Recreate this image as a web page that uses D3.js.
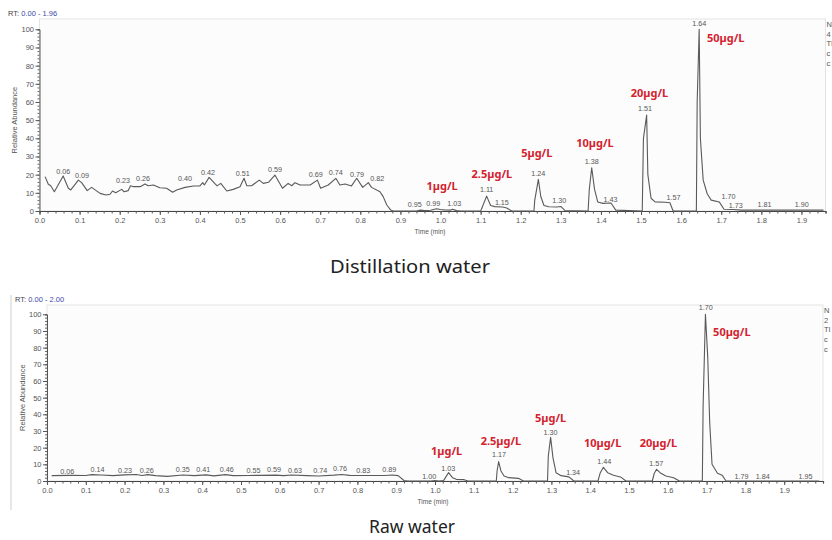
<!DOCTYPE html>
<html><head><meta charset="utf-8">
<script src="https://cdn.jsdelivr.net/npm/d3@7"></script>
<style>
html,body{margin:0;padding:0;background:#fff;}
svg{display:block;font-family:"Liberation Sans",Arial,sans-serif;}
</style></head><body>
<svg id="chart" width="832" height="540"></svg>
<script>
// ---------- DATA ----------
const yTicks = [0,10,20,30,40,50,60,70,80,90,100];
const xTicksTop = [0,0.1,0.2,0.3,0.4,0.5,0.6,0.7,0.8,0.9,1.0,1.1,1.2,1.3,1.4,1.5,1.6,1.7,1.8,1.9];
const xTicksBottom = [0,0.1,0.2,0.3,0.4,0.5,0.6,0.7,0.8,0.9,1.0,1.1,1.2,1.3,1.4,1.5,1.6,1.7,1.8,1.9];

// Distillation water chromatogram [time(min), relative abundance]
const distillationTrace = [
[0.014,18.9],[0.022,14.7],[0.028,13.9],[0.037,10.6],[0.044,13.4],[0.059,19.3],[0.072,12.5],[0.078,11.6],
[0.097,17],[0.105,15.6],[0.119,11.2],[0.13,13],[0.151,9.7],[0.166,8.8],[0.176,9.2],[0.182,11],[0.19,10.1],
[0.205,11.9],[0.211,10.6],[0.221,11.2],[0.227,13.9],[0.234,13.4],[0.251,13.4],[0.263,14.9],[0.271,13.9],
[0.284,14.3],[0.3,12.8],[0.317,12.5],[0.332,10.3],[0.342,11.6],[0.363,13],[0.384,13.8],[0.4,13.8],[0.407,15.6],
[0.411,14.3],[0.423,18.5],[0.438,14.9],[0.443,13.8],[0.452,15.2],[0.467,11],[0.483,11.9],[0.5,13.4],[0.51,18],
[0.517,13.9],[0.529,13.9],[0.548,17],[0.558,15.2],[0.571,15.8],[0.587,19.8],[0.606,12.5],[0.62,15.2],[0.629,13.9],
[0.637,15.6],[0.65,14.3],[0.675,14.3],[0.693,17],[0.701,12.5],[0.72,14.3],[0.739,18],[0.749,14.3],[0.762,14.9],
[0.778,13.8],[0.791,18],[0.806,13],[0.82,15.6],[0.828,13],[0.849,10.6],[0.857,7.9],[0.866,3.3],[0.876,0.5],
[0.882,0],[0.94,0],[0.95,0.5],[0.96,0.2],[0.975,0.4],[0.99,1.2],[1.0,0.8],[1.01,0.6],[1.025,0.5],[1.03,1],
[1.04,0.2],[1.05,0],[1.1,0],[1.102,1],[1.115,8.2],[1.125,3],[1.135,2.4],[1.155,2.2],[1.165,1.6],[1.178,0],
[1.233,0],[1.235,6],[1.244,17.4],[1.25,8],[1.258,3],[1.27,2.3],[1.29,2.2],[1.30,2.5],[1.31,0.3],
[1.368,0],[1.371,12],[1.377,23.8],[1.384,12],[1.392,5],[1.405,4.2],[1.425,4.4],[1.437,0.5],
[1.503,0],[1.506,40],[1.514,52.8],[1.517,20],[1.525,7],[1.535,5],[1.56,4.8],[1.572,4.5],[1.58,0],
[1.638,0],[1.64,60],[1.645,100],[1.648,40],[1.655,17],[1.665,9.5],[1.675,6],[1.695,5],[1.707,1],
[1.73,0.8],[1.75,0.5],[1.81,0.5],[1.9,0.5],[1.955,0.5]
];

// Raw water chromatogram [time(min), relative abundance]
const rawTrace = [
[0.012,3.2],[0.06,3.4],[0.1,3.3],[0.115,3.8],[0.14,3.6],[0.17,3.2],[0.2,3.7],[0.23,3.9],[0.245,3.3],[0.26,3.8],
[0.28,3.2],[0.31,2.8],[0.35,3.6],[0.38,3.2],[0.41,3.7],[0.43,3.1],[0.46,3.8],[0.48,3.2],[0.52,3.3],[0.55,3.4],
[0.59,3.5],[0.61,3.2],[0.63,3.6],[0.67,3.2],[0.7,3.0],[0.74,3.5],[0.76,3.9],[0.78,3.4],[0.83,3.3],[0.87,3.3],
[0.89,3.6],[0.905,3.2],[0.92,0.3],[0.93,0],[0.99,0],[1.0,0.3],[1.01,0],[1.022,0.2],[1.035,5],[1.045,2],
[1.055,1],[1.075,0.8],[1.085,0],[1.158,0],[1.16,6],[1.164,11.6],[1.17,6],[1.178,3],[1.19,2],[1.215,1.6],
[1.228,0],[1.29,0],[1.292,15],[1.298,26.2],[1.304,14],[1.312,5],[1.325,3.2],[1.345,2.5],[1.358,0],
[1.42,0],[1.426,5],[1.434,8.2],[1.445,5],[1.46,3.5],[1.48,2.2],[1.492,0],[1.56,0],[1.565,4.5],[1.571,7],
[1.58,5],[1.595,3],[1.615,2],[1.63,0],[1.689,0],[1.691,45],[1.697,100],[1.703,74],[1.708,35],[1.714,10],
[1.728,4.6],[1.74,3.5],[1.75,0],[1.99,0]
];

// Peak retention-time labels: text, label time position, label height (relative abundance)
const distPeakLabels = ["0.06","0.09","0.23","0.26","0.40","0.42","0.51","0.59","0.69","0.74","0.79","0.82",
  "0.95","0.99","1.03","1.11","1.15","1.24","1.30","1.38","1.43","1.51","1.57","1.64","1.70","1.73","1.81","1.90"];
const distPeakLabelT = [0.059,0.106,0.208,0.258,0.363,0.42,0.507,0.587,0.689,0.739,0.792,0.842,
  0.936,0.982,1.034,1.115,1.153,1.244,1.296,1.377,1.424,1.51,1.581,1.645,1.718,1.736,1.808,1.901];
const distPeakLabelY = [20.4,18.2,15.4,16.5,16.5,19.8,19.3,21.5,18.7,19.8,18.7,16.5,
  2.2,2.9,2.8,10.5,3.5,19.1,4.4,25.9,5,54.9,6.2,101.7,6.6,1.8,2.2,2.2];
const rawPeakLabels = ["0.06","0.14","0.23","0.26","0.35","0.41","0.46","0.55","0.59","0.63","0.74","0.76","0.83","0.89",
  "1.00","1.03","1.17","1.30","1.34","1.44","1.57","1.70","1.79","1.84","1.95"];
const rawPeakLabelT = [0.052,0.130,0.201,0.257,0.350,0.403,0.463,0.532,0.585,0.639,0.704,0.755,0.815,0.882,
  0.985,1.034,1.165,1.298,1.356,1.436,1.570,1.698,1.790,1.845,1.955];
const rawPeakLabelY = [4.4,5.2,4.8,4.8,5.4,5.4,5.4,4.8,5.4,4.8,4.8,6,4.8,5.4,
  1.2,6.2,14.4,27.4,3.8,10.2,9.2,102.4,1.2,1.2,1.2];

// Concentration annotations
const concLabels = ["1µg/L","2.5µg/L","5µg/L","10µg/L","20µg/L","50µg/L"];
const distConcT = [1.004,1.128,1.24,1.385,1.521,1.711];
const distConcY = [11.6,17.9,29.5,35.4,62.9,93];
const rawConcT = [1.030,1.170,1.298,1.432,1.576,1.765];
const rawConcY = [15.6,21.6,35.2,20.6,20.6,87.2];

const panelTitles = ["Distillation water","Raw water"];
const rtRanges = ["0.00 - 1.96","0.00 - 2.00"];
const sideTextTop = ["N","4","TI","c","c"];
const sideTextBottom = ["N","2","TI","c","c"];

// ---------- DRAW ----------
const svg = d3.select("#chart");

function panel(cfg){
  const g = svg.append("g");
  const x = d3.scaleLinear().domain(cfg.xDomain).range(cfg.xRange);
  const y = d3.scaleLinear().domain([0,100]).range(cfg.yRange);
  const left = cfg.xRange[0], right = cfg.xRange[1];
  g.append("rect").attr("x",left).attr("y",cfg.frameTop)
    .attr("width",right-left).attr("height",cfg.yRange[0]-cfg.frameTop)
    .attr("fill","#fcfcfc").attr("stroke","#e4e4e4").attr("stroke-width",1);
  const rt = g.append("text").attr("x",cfg.rtX).attr("y",cfg.frameTop-3)
    .attr("font-size",7.5).attr("fill","#444");
  rt.append("tspan").text("RT: ");
  rt.append("tspan").attr("fill","#3c4aa8").text(cfg.rt);
  const yMinor = d3.range(0,101,2);
  g.append("g").attr("transform",`translate(${left},0)`)
    .call(d3.axisLeft(y).tickValues(yMinor).tickSize(2).tickFormat(""))
    .call(s=>s.select(".domain").attr("stroke","#555"))
    .call(s=>s.selectAll(".tick line").attr("stroke","#666"));
  g.append("g").attr("transform",`translate(${left},0)`)
    .call(d3.axisLeft(y).tickValues(yTicks).tickSize(4).tickPadding(1.5).tickFormat(d3.format("d")))
    .call(s=>s.select(".domain").remove())
    .call(s=>s.selectAll(".tick line").attr("stroke","#555"))
    .call(s=>s.selectAll("text").attr("font-size",7.5).attr("fill","#555").attr("font-family","Liberation Sans"));
  g.append("text").attr("transform",`translate(${cfg.yLabelX},${(cfg.yRange[0]+cfg.yRange[1])/2}) rotate(-90)`)
    .attr("text-anchor","middle").attr("font-size",7.5).attr("fill","#555").text("Relative Abundance");
  const xMinor = d3.range(0, cfg.xDomain[1]+1e-9, 0.02);
  g.append("g").attr("transform",`translate(0,${cfg.yRange[0]})`)
    .call(d3.axisBottom(x).tickValues(xMinor).tickSize(2.5).tickFormat(""))
    .call(s=>s.select(".domain").attr("stroke","#444").attr("stroke-width",1.2))
    .call(s=>s.selectAll(".tick line").attr("stroke","#555"));
  g.append("g").attr("transform",`translate(0,${cfg.yRange[0]})`)
    .call(d3.axisBottom(x).tickValues(cfg.xTicks).tickSize(4).tickPadding(3).tickFormat(d3.format(".1f")))
    .call(s=>s.select(".domain").remove())
    .call(s=>s.selectAll(".tick line").attr("stroke","#555"))
    .call(s=>s.selectAll("text").attr("font-size",7.5).attr("fill","#555").attr("font-family","Liberation Sans"));
  g.append("text").attr("x",cfg.timeLabelX).attr("y",cfg.yRange[0]+23)
    .attr("text-anchor","middle").attr("font-size",6.5).attr("fill","#555").text("Time (min)");
  const line = d3.line().x(d=>x(d[0])).y(d=>y(d[1]));
  g.append("path").datum(cfg.trace).attr("d",line)
    .attr("fill","none").attr("stroke","#5a5a5a").attr("stroke-width",1.1).attr("stroke-linejoin","round");
  g.selectAll("text.pk").data(cfg.peakLabels).join("text").attr("class","pk")
    .attr("x",(d,i)=>x(cfg.peakT[i])).attr("y",(d,i)=>y(cfg.peakY[i]))
    .attr("text-anchor","middle").attr("font-size",7.2).attr("fill","#555").text(d=>d);
  g.selectAll("text.conc").data(concLabels).join("text").attr("class","conc")
    .attr("x",(d,i)=>x(cfg.concT[i])).attr("y",(d,i)=>y(cfg.concY[i]))
    .attr("text-anchor","middle").attr("font-size",11).attr("font-weight","bold")
    .attr("font-family","'Noto Sans','Liberation Sans',sans-serif")
    .attr("fill","#d3222e").text(d=>d);
  g.selectAll("text.side").data(cfg.side).join("text").attr("class","side")
    .attr("x",right+1).attr("y",(d,i)=>cfg.frameTop+8+i*9.7)
    .attr("font-size",7.5).attr("fill","#555").text(d=>d);
  g.append("text").attr("x",cfg.titleX).attr("y",cfg.titleY).attr("text-anchor","middle")
    .attr("font-family","'Noto Sans',sans-serif").attr("font-size",18).attr("fill","#222")
    .attr("textLength",cfg.titleW).attr("lengthAdjust","spacingAndGlyphs").text(cfg.title);
}

panel({xDomain:[0,1.96], xRange:[39.5,825.5], yRange:[211,29.3], frameTop:19, rtX:8, rt:rtRanges[0],
  yLabelX:17, xTicks:xTicksTop, timeLabelX:430, trace:distillationTrace, peakLabels:distPeakLabels,
  peakT:distPeakLabelT, peakY:distPeakLabelY, concT:distConcT, concY:distConcY, side:sideTextTop,
  title:panelTitles[0], titleX:410, titleY:273, titleW:160});

panel({xDomain:[0,2.0], xRange:[47,823], yRange:[481,314.3], frameTop:305, rtX:15, rt:rtRanges[1],
  yLabelX:25, xTicks:xTicksBottom, timeLabelX:433, trace:rawTrace, peakLabels:rawPeakLabels,
  peakT:rawPeakLabelT, peakY:rawPeakLabelY, concT:rawConcT, concY:rawConcY, side:sideTextBottom,
  title:panelTitles[1], titleX:412, titleY:533, titleW:86});

svg.append("line").attr("x1",11).attr("x2",11).attr("y1",295).attr("y2",510).attr("stroke","#cfcfcf");
</script>
</body></html>
